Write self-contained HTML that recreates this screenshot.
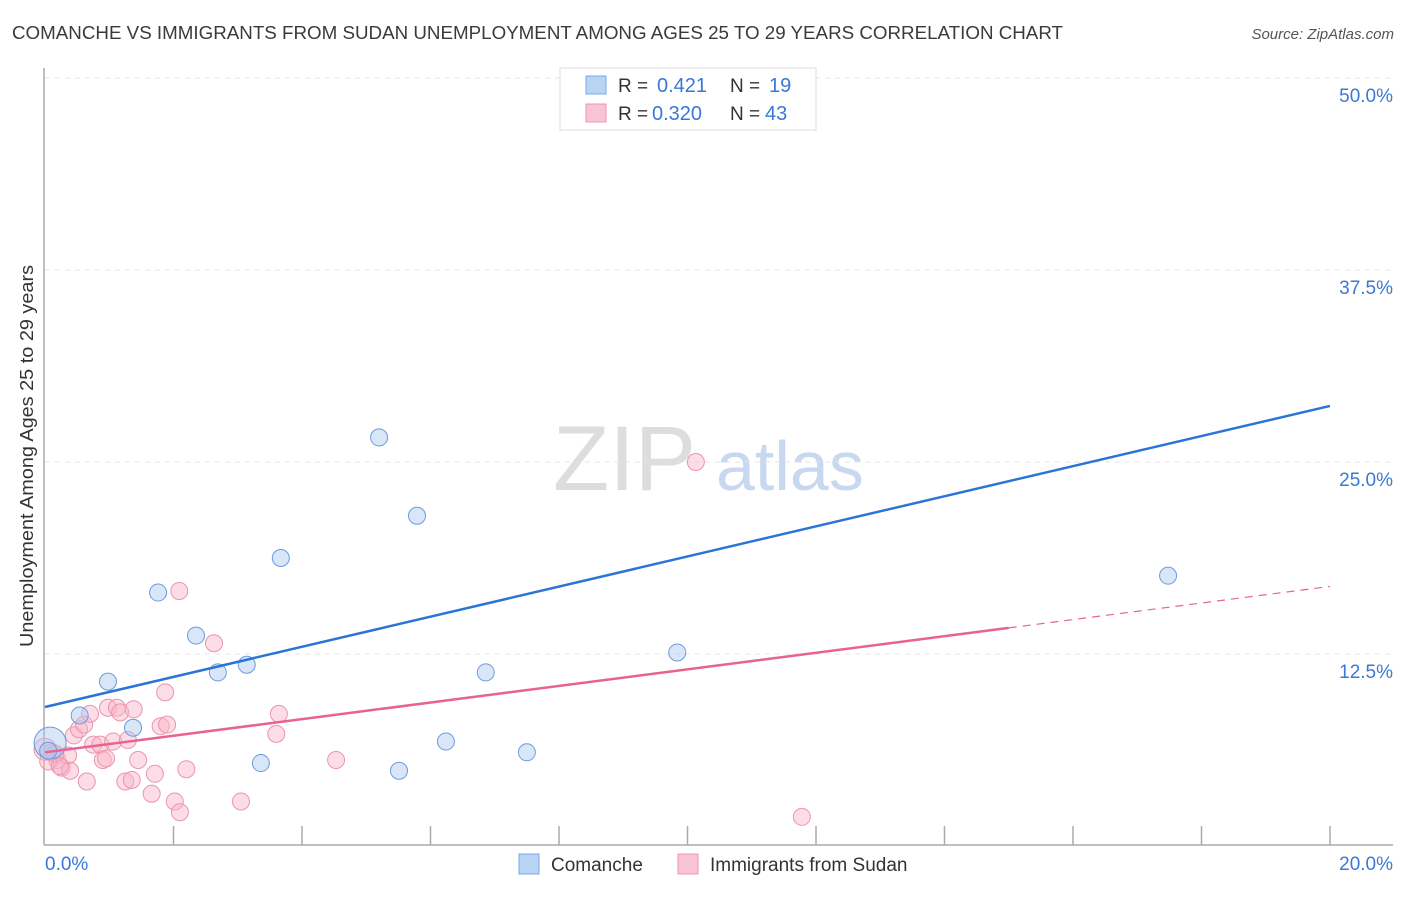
<!DOCTYPE html>
<html><head><meta charset="utf-8"><style>
body{margin:0;background:#fff;font-family:"Liberation Sans",sans-serif;}
svg text{font-family:"Liberation Sans",sans-serif;}
</style></head><body>
<svg id="chart" width="1406" height="892">
<text x="12" y="39" font-size="18" fill="#3a3a3a" textLength="1051" lengthAdjust="spacingAndGlyphs">COMANCHE VS IMMIGRANTS FROM SUDAN UNEMPLOYMENT AMONG AGES 25 TO 29 YEARS CORRELATION CHART</text>
<text x="1394" y="39" font-size="15" fill="#555" font-style="italic" text-anchor="end">Source: ZipAtlas.com</text>
<text x="33" y="456" font-size="18" fill="#333" text-anchor="middle" textLength="382" lengthAdjust="spacingAndGlyphs" transform="rotate(-90 33 456)">Unemployment Among Ages 25 to 29 years</text>
<text x="553" y="490" font-size="92" fill="#ddd" font-family="Liberation Serif">ZIP</text>
<text x="716" y="490" font-size="70" fill="#c8d8f0">atlas</text>
<g id="grid"></g><g id="axes"></g><g id="pts"></g><g id="lines"></g>
<g>
<rect x="560" y="68" width="256" height="62" fill="#fff" stroke="#ddd"/>
<rect x="586" y="76" width="20" height="18" fill="#b8d4f5" stroke="#7aa8e0"/>
<text x="618" y="92" font-size="19" fill="#333">R =</text><text x="657" y="92" font-size="20" fill="#3a78d8">0.421</text>
<text x="730" y="92" font-size="19" fill="#333">N =</text><text x="769" y="92" font-size="20" fill="#3a78d8">19</text>
<rect x="586" y="104" width="20" height="18" fill="#f9c4d4" stroke="#ec94b0"/>
<text x="618" y="120" font-size="19" fill="#333">R =</text><text x="652" y="120" font-size="20" fill="#3a78d8">0.320</text>
<text x="730" y="120" font-size="19" fill="#333">N =</text><text x="765" y="120" font-size="20" fill="#3a78d8">43</text>
</g>
<g>
<rect x="519" y="854" width="20" height="20" fill="#b8d4f5" stroke="#7aa8e0"/>
<text x="551" y="871" font-size="19" fill="#333">Comanche</text>
<rect x="678" y="854" width="20" height="20" fill="#f9c4d4" stroke="#ec94b0"/>
<text x="710" y="871" font-size="19" fill="#333">Immigrants from Sudan</text>
</g>
</svg>
<script>
const blueX=[0.08,0.05,0.54,0.98,1.37,1.76,2.35,2.69,3.14,3.36,3.67,5.2,5.51,5.79,6.24,6.86,7.5,9.84,17.48];
const blueY=[6.7,6.2,8.5,10.7,7.7,16.5,13.7,11.3,11.8,5.4,18.75,26.6,4.9,21.5,6.8,11.3,6.1,12.6,17.6];
const pinkX=[0.0,0.11,0.19,0.26,0.36,0.39,0.45,0.53,0.61,0.65,0.7,0.75,0.86,0.9,0.95,0.98,1.06,1.12,1.17,1.25,1.29,1.35,1.38,1.45,1.66,1.71,1.8,1.87,1.9,2.02,2.09,2.1,2.2,2.63,3.05,3.6,3.64,4.53,10.13,11.78,0.16,0.05,0.23];
const pinkY=[6.3,6.1,5.6,5.1,5.9,4.9,7.2,7.6,7.9,4.2,8.6,6.6,6.6,5.6,5.7,9.0,6.8,9.0,8.7,4.2,6.9,4.3,8.9,5.6,3.4,4.7,7.8,10.0,7.9,2.9,16.6,2.2,5.0,13.2,2.9,7.3,8.6,5.6,25.0,1.9,6.0,5.5,5.2];
const blueFit=[9.05,28.65], pinkFit=[6.1,16.9], pinkSolidEnd=15.0;
const yTicks=[12.5,25,37.5,50], yLabels=["12.5%","25.0%","37.5%","50.0%"];
const xTicks=[0,2,4,6,8,10,12,14,16,18,20];
const NS="http://www.w3.org/2000/svg";
const X=v=>45+v*64.25, Y=v=>846-v*15.36;
function mk(p,t,a){const e=document.createElementNS(NS,t);for(const k in a)e.setAttribute(k,a[k]);document.getElementById(p).appendChild(e);return e;}
yTicks.forEach((t,i)=>{
 const l=mk('grid','line',{x1:45,x2:1393,y1:Y(t),y2:Y(t),stroke:'#e4e4e4','stroke-dasharray':'5,5'});
 
 
 const tx=mk('grid','text',{x:1393,y:Y(t)+24,'font-size':19,fill:'#3a78d8','text-anchor':'end'});tx.textContent=yLabels[i];
 
 
});
const ax=mk('axes','line',{x1:44,x2:1393,y1:845,y2:845,stroke:'#aaa','stroke-width':1.5});


const ay=mk('axes','line',{x1:44,x2:44,y1:68,y2:845,stroke:'#aaa','stroke-width':1.5});


xTicks.forEach(t=>{if(t===0)return;const l=mk('axes','line',{x1:X(t),x2:X(t),y1:826,y2:845,stroke:'#aaa','stroke-width':1.5});
 
 });
const x0=mk('axes','text',{x:45,y:870,'font-size':19,fill:'#3a78d8'});x0.textContent="0.0%";


const x1=mk('axes','text',{x:1393,y:870,'font-size':19,fill:'#3a78d8','text-anchor':'end'});x1.textContent="20.0%";


pinkX.forEach((v,i)=>{const c=mk('pts','circle',{cx:X(v),cy:Y(pinkY[i]),r:i===0?11:8.5,fill:'rgba(248,180,200,0.45)',stroke:'#ec94b0','stroke-width':1});
 
 });
blueX.forEach((v,i)=>{const c=mk('pts','circle',{cx:X(v),cy:Y(blueY[i]),r:i===0?16:8.5,fill:'rgba(170,200,240,0.45)',stroke:'#6a9be0','stroke-width':1});
 
 });
const bl=mk('lines','line',{x1:X(0),y1:Y(blueFit[0]),x2:X(20),y2:Y(blueFit[1]),stroke:'#2a74d8','stroke-width':2.5});


const pm=pinkFit[0]+(pinkFit[1]-pinkFit[0])*pinkSolidEnd/20;
const pl=mk('lines','line',{x1:X(0),y1:Y(pinkFit[0]),x2:X(pinkSolidEnd),y2:Y(pm),stroke:'#e8638f','stroke-width':2.5});


const pd=mk('lines','line',{x1:X(pinkSolidEnd),y1:Y(pm),x2:X(20),y2:Y(pinkFit[1]),stroke:'#e8638f','stroke-width':1.2,'stroke-dasharray':'8,6'});


</script>
</body></html>
